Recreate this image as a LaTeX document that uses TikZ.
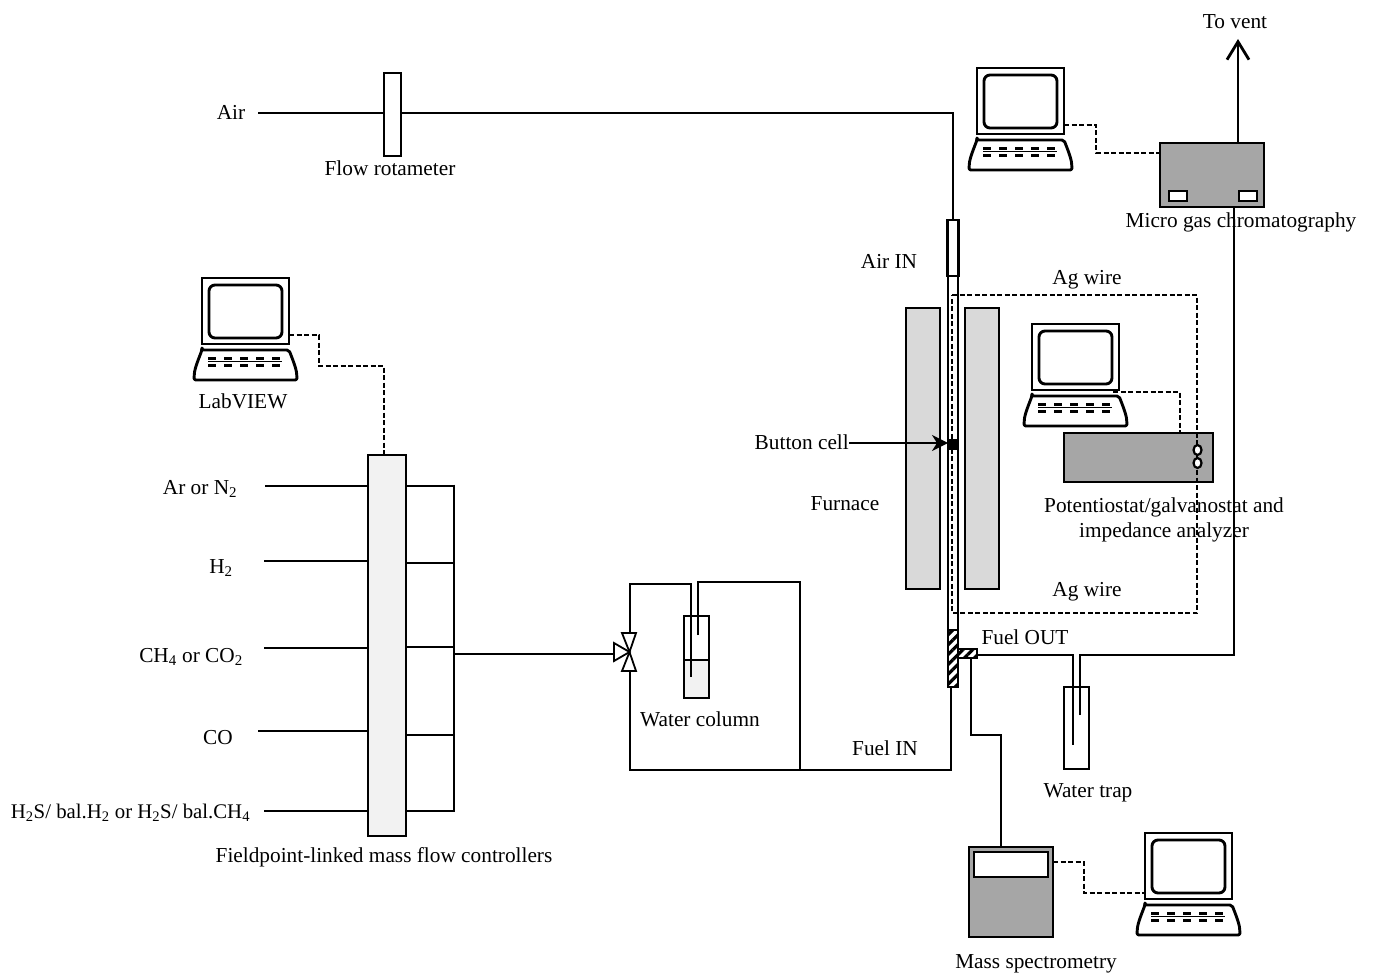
\documentclass[tikz,border=0pt]{standalone}
\usepackage{fontspec}
\setmainfont{Liberation Serif}
\usepackage{xcolor}
\definecolor{cBox}{HTML}{A6A6A6}
\definecolor{cOven}{HTML}{D9D9D9}
\definecolor{cPale}{HTML}{F2F2F2}
\usetikzlibrary{positioning,arrows.meta,patterns.meta,backgrounds,shapes.geometric}
\tikzset{
  node-box/.style={draw,line width=2.8pt,anchor=north west,inner sep=0pt,outer sep=0pt,fill=white},
  node-gray/.style={node-box,fill=cBox},
  node-oven/.style={node-box,fill=cOven},
  node-hatch/.style={node-box,pattern={Lines[angle=45,distance=7pt,line width=3.2pt]}},
  node-port/.style={draw,line width=2.2pt,ellipse,fill=white,minimum width=8pt,minimum height=10pt,inner sep=0pt},
  node-label/.style={font=\fontsize{21.3}{25}\selectfont,inner sep=0pt,align=center,yshift=-0.7pt},
  line-gas/.style={line width=2.8pt,line join=miter},
  line-signal/.style={line width=2pt,dash pattern=on 5pt off 2.5pt},
  arrow-cell/.style={-{Stealth[length=16pt,width=16pt,inset=5pt]},line width=1.8pt},
  arrow-vent/.style={-{Straight Barb[length=18pt,width=22pt]},line width=2.8pt},
  pics/computer/.style={code={
    \draw[line width=2.9pt] (0,0) rectangle (87,66);
    \draw[line width=2.9pt,rounded corners=6pt] (7,7) rectangle (80,60);
    \draw[line width=2.9pt,line join=round,rounded corners=2pt] (0,72) -- (87,72)
      .. controls (92,85) and (95,92) .. (95,102) -- (-8,102)
      .. controls (-8,92) and (-5,85) .. cycle;
    \foreach \k in {0,1,2,3,4} {
      \fill (6+16*\k,79) rectangle ++(8,2.8);
      \fill (6+16*\k,85.6) rectangle ++(8,3.4);
    }
    \draw[line width=1pt] (6,83.6) -- (80,83.6);
    \coordinate (-e) at (87,57);
    \coordinate (-w) at (0,60);
    \coordinate (-k) at (81,68);
  }},
}
\begin{document}
\begin{tikzpicture}[x=1pt,y=-1pt]
  \useasboundingbox (0,0) rectangle (1374,979);
  % air side
  \coordinate (air-src) at (258,113);
  \node[node-box,minimum width=17pt,minimum height=83pt] (rotameter) at (384,73) {};
  \node[node-box,fill=none,minimum width=11pt,minimum height=56pt] (air-tube) at (947.5,220) {};
  \node[node-box,fill=none,minimum width=10pt,minimum height=354pt] (cell-tube) at (948,276) {};
  \node[node-hatch,minimum width=10pt,minimum height=57pt] (fuel-tube) at (948,630) {};
  \node[node-hatch,minimum width=19pt,minimum height=9pt] (side-port) at (958,649) {};
  \begin{scope}[on background layer]
    \draw[line-gas] (air-src) -- (air-src -| air-tube.north) -- (air-tube.north);
  \end{scope}
  % furnace and cell
  \node[node-oven,minimum width=34pt,minimum height=281pt] (furnace-l) at (906,308) {};
  \node[node-oven,minimum width=34pt,minimum height=281pt] (furnace-r) at (965,308) {};
  \node[draw,fill=black,line width=1pt,anchor=north west,inner sep=0pt,minimum size=10pt] (cell) at (948,439) {};
  \node[node-label,anchor=east] (lbl-cell) at (849,442) {Button cell};
  \draw[arrow-cell] (849,443) -- (cell.west |- 0,443);
  % potentiostat
  \node[node-gray,minimum width=149pt,minimum height=49pt] (potentio) at (1064,433) {};
  \coordinate (wire-nw) at (952,295);
  \coordinate (wire-ne) at (1197,295);
  \coordinate (wire-se) at (1197,613);
  \coordinate (wire-sw) at (952,613);
  \draw[line-signal] (wire-nw) -- (wire-ne) -- (wire-se) -- (wire-sw) -- cycle;
  \node[node-port] (port-a) at (1197.5,450) {};
  \node[node-port] (port-b) at (1197.5,463) {};
  \pic (pg-pc) at (1032,324) {computer};
  \draw[line-signal] (pg-pc-k) -- (pg-pc-k -| 1180,0) -- (1180,0 |- potentio.north);
  % gas chromatograph
  \node[node-gray,minimum width=104pt,minimum height=64pt] (gc) at (1160,143) {};
  \node[node-box,line width=2.4pt,minimum width=18pt,minimum height=10pt] (gc-a) at (1169,191) {};
  \node[node-box,line width=2.4pt,minimum width=18pt,minimum height=10pt] (gc-b) at (1239,191) {};
  \pic (gc-pc) at (977,68) {computer};
  \coordinate (gc-bend) at (1096,153);
  \coordinate (vent-end) at (1238,39);
  \draw[line-signal] (gc-pc-e) -- (gc-pc-e -| gc-bend) -- (gc-bend) -- (gc-bend -| gc.west);
  \draw[arrow-vent] (vent-end |- gc.north) -- (vent-end);
  % water trap
  \node[node-box,fill=none,minimum width=25pt,minimum height=82pt] (trap) at (1064,687) {};
  \coordinate (trap-in) at (1073,745);
  \coordinate (trap-out) at (1080,715);
  \coordinate (gc-in) at (1234,655);
  \draw[line-gas] (side-port.east |- 0,655) -- (trap-in |- 0,655) -- (trap-in);
  \draw[line-gas] (trap-out) -- (trap-out |- gc-in) -- (gc-in) -- (gc-in |- gc.south);
  % mass spectrometer
  \node[node-gray,minimum width=84pt,minimum height=90pt] (ms) at (969,847) {};
  \node[node-box,minimum width=74pt,minimum height=25pt] (ms-win) at (974,852) {};
  \pic (ms-pc) at (1145,833) {computer};
  \coordinate (ms-bend) at (971,735);
  \draw[line-gas] (side-port.south -| ms-bend) -- (ms-bend) -- (ms-bend -| 1001,0) -- (1001,0 |- ms.north);
  \draw[line-signal] (ms.east |- 0,862) -- (1084,862) -- (1084,893) -- (ms-pc-w);
  % mass flow controllers
  \node[node-box,fill=cPale,minimum width=38pt,minimum height=381pt] (mfc) at (368,455) {};
  \pic (lab-pc) at (202,278) {computer};
  \draw[line-signal] (lab-pc-e) -- (319,0 |- lab-pc-e) -- (319,366) -- (384,366) -- (384,0 |- mfc.north);
  \foreach \x/\y in {265/486,264/561,264/648,258/731,264/811}
    \draw[line-gas] (\x,\y) -- (mfc.west |- 0,\y);
  \foreach \y in {486,563,647,735,811}
    \draw[line-gas] (mfc.east |- 0,\y) -- (454,\y);
  \coordinate (bus-top) at (454,484.6);
  \coordinate (bus-bot) at (454,812.4);
  \draw[line-gas] (bus-top) -- (bus-bot);
  % valve and water column
  \coordinate (valve) at (629.5,652);
  \draw[line-gas,line width=1.8pt,fill=white] (valve) -- (622,633) -- (636,633) -- cycle;
  \draw[line-gas,line width=1.8pt,fill=white] (valve) -- (622,671) -- (636,671) -- cycle;
  \draw[line-gas,line width=1.8pt,fill=white] (valve) -- (614,643) -- (614,661) -- cycle;
  \draw[line-gas] (454,654) -- (614,654);
  \node[node-box,fill=none,minimum width=25pt,minimum height=44pt] (col-top) at (684,616) {};
  \node[node-box,fill=cPale,minimum width=25pt,minimum height=38pt] (col-water) at (684,660) {};
  \coordinate (col-in) at (691,677);
  \coordinate (col-out) at (698,635);
  \coordinate (fuel-corner) at (630,770);
  \draw[line-gas] (630,633) -- (630,584) -- (col-in |- 0,584) -- (col-in);
  \draw[line-gas] (col-out) -- (col-out |- 0,582) -- (800,582) -- (800,770);
  \draw[line-gas] (630,671) -- (fuel-corner) -- (fuel-corner -| 951,0) -- (951,0 |- fuel-tube.south);
  % labels
  \begin{scope}[every node/.style={node-label}]
    \node (lbl-vent) at (1235,21) {To vent};
    \node (lbl-air) at (231,112) {Air};
    \node (lbl-rot) at (390,168) {Flow rotameter};
    \node (lbl-airin) at (889,261) {Air IN};
    \node (lbl-ag1) at (1087,279) {Ag wire};
    \node (lbl-gc) at (1241,222) {Micro gas chromatography};
    \node (lbl-lab) at (243,401) {LabVIEW};
    \node (lbl-furn) at (845,503) {Furnace};
    \node (lbl-pg) at (1164,519) {Potentiostat/galvanostat and\\impedance analyzer};
    \node (lbl-ag2) at (1087,591) {Ag wire};
    \node (lbl-out) at (1025,637) {Fuel OUT};
    \node (lbl-in) at (885,748) {Fuel IN};
    \node (lbl-col) at (700,719) {Water column};
    \node (lbl-trap) at (1088,792) {Water trap};
    \node (lbl-ms) at (1036,963) {Mass spectrometry};
    \node (lbl-mfc) at (384,857) {Fieldpoint-linked mass flow controllers};
    \node (lbl-g1) at (200,488) {Ar or N\textsubscript{2}};
    \node (lbl-g2) at (221,567) {H\textsubscript{2}};
    \node (lbl-g3) at (191,656) {CH\textsubscript{4} or CO\textsubscript{2}};
    \node (lbl-g4) at (218,737) {CO};
    \node[font=\fontsize{20.8}{25}\selectfont] (lbl-g5) at (130.5,812) {H\textsubscript{2}S/ bal.H\textsubscript{2} or H\textsubscript{2}S/ bal.CH\textsubscript{4}};
  \end{scope}
\end{tikzpicture}
\end{document}
